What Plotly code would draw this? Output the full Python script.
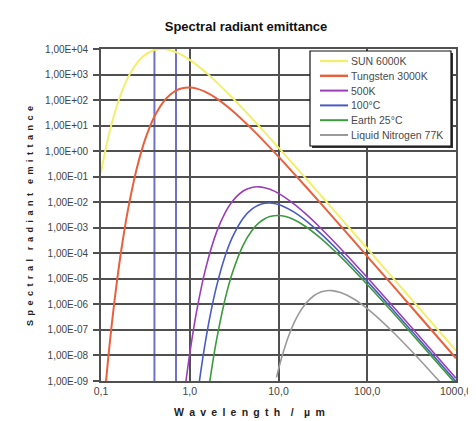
import plotly.graph_objects as go

# ---- data (wavelength in µm, emittance in W/(cm²·µm)) ----
sun_wl = [0.1, 0.11, 0.12, 0.13, 0.15, 0.17, 0.2, 0.25, 0.3, 0.4, 0.5, 0.6, 0.7, 0.8, 1.0,
          1.5, 2, 3, 5, 7, 10, 20, 50, 100, 200, 500, 1000]
sun_val = [0.144, 0.792, 3.15, 9.83, 56.2, 197, 726, 2616, 5203, 9122, 9976, 9008, 7483, 5999, 3741,
           1249, 505, 125.8, 19.46, 5.45, 1.381, 0.0918, 2.437e-3, 1.542e-4, 9.69e-6, 2.49e-7, 1.56e-8]

tung_wl = [0.11, 0.12, 0.13, 0.14, 0.15, 0.17, 0.2, 0.25, 0.3, 0.35, 0.4, 0.5, 0.6, 0.7, 0.8, 1.0,
           1.2, 1.5, 2, 3, 5, 7, 10, 20, 50, 100, 200, 500, 1000]
tung_val = [2.7e-10, 6.61e-9, 9.58e-8, 9.22e-7, 6.41e-6, 1.474e-4, 4.50e-3, 0.1786, 1.756, 7.97, 22.68,
            81.75, 162.6, 235.9, 285.1, 311.7, 281.5, 210.0, 116.9, 39.02, 7.44, 2.262, 0.608, 0.0432,
            1.189e-3, 7.62e-5, 4.82e-6, 1.242e-7, 7.78e-9]

k500_wl = [0.9, 0.95, 1.0, 1.2, 1.5, 2, 2.5, 3, 4, 5, 6, 7, 8, 10, 15, 20, 30, 50, 100, 200, 500, 1000]
k500_val = [8.24e-10, 3.38e-9, 1.19e-8, 5.79e-7, 2.30e-5, 6.60e-4, 3.84e-3, 0.01051, 0.02747, 0.0380,
            0.0401, 0.0371, 0.0322, 0.0223, 8.48e-3, 3.64e-3, 9.57e-4, 1.539e-4, 1.122e-5, 7.56e-7,
            2.02e-8, 1.28e-9]

c100_wl = [1.2, 1.3, 1.4, 1.5, 1.7, 2, 2.5, 3, 4, 5, 6, 7, 8, 10, 15, 20, 30, 50, 100, 200, 500, 1000]
c100_val = [1.67e-10, 1.33e-9, 7.61e-9, 3.38e-8, 3.72e-7, 4.96e-6, 7.68e-5, 4.03e-4, 2.38e-3, 5.36e-3,
            7.80e-3, 9.06e-3, 9.29e-3, 8.09e-3, 4.08e-3, 1.99e-3, 5.89e-4, 1.030e-4, 7.95e-6, 5.50e-7,
            1.49e-8, 9.52e-10]

earth_wl = [1.6, 1.7, 1.8, 2, 2.5, 3, 4, 5, 6, 7, 8, 10, 12, 15, 20, 30, 50, 100, 200, 500, 1000]
earth_val = [2.84e-10, 1.24e-9, 4.51e-9, 3.88e-8, 1.59e-6, 1.59e-5, 2.11e-4, 7.70e-4, 1.547e-3, 2.26e-3,
             2.75e-3, 3.03e-3, 2.75e-3, 2.06e-3, 1.15e-3, 3.85e-4, 7.37e-5, 6.03e-6, 4.29e-7, 1.18e-8,
             7.57e-10]

ln2_wl = [9.5, 10, 11, 12, 13, 15, 17, 20, 25, 30, 35, 40, 50, 60, 70, 80, 100, 150, 200, 300, 500,
          700, 1000]
ln2_val = [1.39e-9, 2.87e-9, 9.75e-9, 2.59e-8, 5.77e-8, 1.92e-7, 4.44e-7, 1.02e-6, 2.18e-6, 3.04e-6,
           3.44e-6, 3.45e-6, 2.92e-6, 2.24e-6, 1.66e-6, 1.22e-6, 6.83e-7, 1.99e-7, 7.57e-8, 1.78e-8,
           2.64e-9, 7.3e-10, 1.8e-10]

series_names = ["SUN 6000K", "Tungsten 3000K", "500K", "100°C", "Earth 25°C", "Liquid Nitrogen 77K"]
series_colors = ["#f2ee6e", "#e8603c", "#9a3fb8", "#4a5cc4", "#3f9a3f", "#9a9a9a"]
series_widths = [2, 2, 1.6, 1.6, 1.6, 1.6]

visible_band = [0.4, 0.7]

x_tickvals = [0.1, 1, 10, 100, 1000]
x_ticktext = ["0,1", "1,0", "10,0", "100,0", "1000,0"]
y_exps = list(range(-9, 5))
y_tickvals = [10.0 ** e for e in y_exps]
y_ticktext = ["1,00E{}{:02d}".format("+" if e >= 0 else "-", abs(e)) for e in y_exps]

# ---- layout geometry (pixels) ----
W, H = 476, 421
PL, PR, PT, PB = 93, 448, 41, 373   # plot area edges


def px_x(px):
    return (px - PL) / (PR - PL)


def px_y(py):
    return (PB - py) / (PB - PT)


fig = go.Figure()

data = [(sun_wl, sun_val), (tung_wl, tung_val), (k500_wl, k500_val),
        (c100_wl, c100_val), (earth_wl, earth_val), (ln2_wl, ln2_val)]

for (wl, val), name, col, w in zip(data, series_names, series_colors, series_widths):
    fig.add_trace(go.Scatter(x=wl, y=val, mode="lines", name=name, showlegend=False,
                             line=dict(color=col, width=w, shape="spline", smoothing=0.8)))

for xb in visible_band:
    fig.add_shape(type="line", xref="x", yref="paper", x0=xb, x1=xb, y0=0, y1=1,
                  line=dict(color="#6f70c8", width=2), layer="below")

# ---- legend box drawn by hand (compact Excel-like legend) ----
LX0, LY0, LX1, LY1 = 302, 43, 443, 138
fig.add_shape(type="rect", xref="paper", yref="paper",
              x0=px_x(LX0 + 2), x1=px_x(LX1 + 2), y0=px_y(LY1 + 2), y1=px_y(LY0 + 2),
              fillcolor="#333333", line=dict(width=0))
fig.add_shape(type="rect", xref="paper", yref="paper",
              x0=px_x(LX0), x1=px_x(LX1), y0=px_y(LY1), y1=px_y(LY0),
              fillcolor="white", line=dict(color="#111111", width=1.2))
row_y0, row_dy = 53, 14.8
for i, (name, col, w) in enumerate(zip(series_names, series_colors, series_widths)):
    ry = row_y0 + i * row_dy
    fig.add_shape(type="line", xref="paper", yref="paper",
                  x0=px_x(312), x1=px_x(340), y0=px_y(ry), y1=px_y(ry),
                  line=dict(color=col, width=w + 0.4))
    fig.add_annotation(text=name, xref="paper", yref="paper", x=px_x(341), y=px_y(ry),
                       xanchor="left", yanchor="middle", showarrow=False,
                       font=dict(size=10.5, color="#4a4a4a"))

fig.update_layout(
    width=W, height=H,
    margin=dict(l=PL, r=W - PR, t=PT, b=H - PB),
    paper_bgcolor="white", plot_bgcolor="white",
    font=dict(family="Liberation Sans, Arial, sans-serif", size=10, color="#333333"),
    title=dict(text="<b>Spectral radiant emittance</b>", x=0.5, xref="container", xanchor="center",
               y=1 - 18 / H, yref="container", yanchor="middle",
               font=dict(size=13, color="#111111")),
    showlegend=False,
)

fig.update_xaxes(type="log", range=[-1, 3], tickvals=x_tickvals, ticktext=x_ticktext,
                 showgrid=True, gridcolor="#505050", gridwidth=1.6,
                 showline=True, linecolor="#505050", linewidth=1.6, mirror=True,
                 ticks="", tickfont=dict(size=10.5, color="#444444"),
                 zeroline=False)
fig.update_yaxes(type="log", range=[-9, 4], tickvals=y_tickvals, ticktext=y_ticktext,
                 showgrid=True, gridcolor="#505050", gridwidth=1.6,
                 showline=True, linecolor="#505050", linewidth=1.6, mirror=True,
                 ticks="outside", ticklen=6, tickcolor="#505050", tickwidth=1.5,
                 ticklabelstandoff=3, tickfont=dict(size=10, color="#444444"), zeroline=False)

sp = "\u2002"
x_title = "Wavelength"
y_title_words = ["Spectral", "radiant", "emittance"]
fig.add_annotation(text="<b>" + sp.join(x_title) + sp * 2 + "/" + sp * 2 + sp.join("µm") + "</b>",
                   xref="paper", yref="paper", x=px_x(W / 2 + 3), y=px_y(404),
                   xanchor="center", yanchor="middle", showarrow=False,
                   font=dict(size=10.5, color="#222222"))
fig.add_annotation(text="<b>" + (sp * 2).join(sp.join(w) for w in y_title_words) + "</b>",
                   xref="paper", yref="paper", x=px_x(22), y=px_y(208),
                   xanchor="center", yanchor="middle", showarrow=False, textangle=-90,
                   font=dict(size=9, color="#222222"))

fig.write_html("out.html")
